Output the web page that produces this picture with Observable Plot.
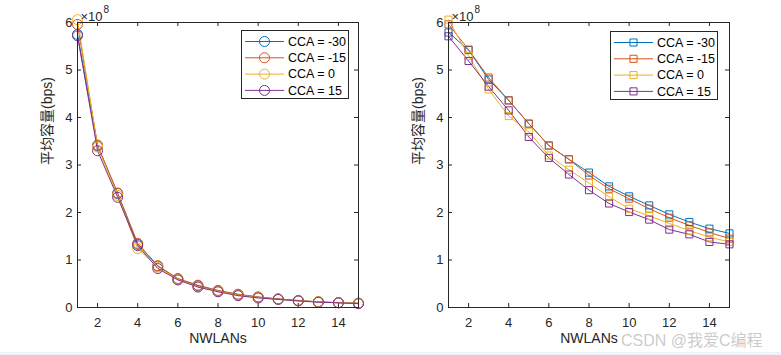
<!DOCTYPE html>
<html>
<head>
<meta charset="utf-8">
<script src="https://cdn.jsdelivr.net/npm/d3@7"></script>
<script src="https://cdn.jsdelivr.net/npm/@observablehq/plot@0.6"></script>
<style>
  html, body { margin: 0; padding: 0; background: #fff; }
  #wrap { position: relative; width: 781px; height: 355px; overflow: hidden; font-family: "Liberation Sans", Arial, "Noto Sans CJK SC", sans-serif; }
  .panel { position: absolute; top: 0; }
  .band { position: absolute; left: 0; top: 352px; width: 781px; height: 3px; background: #eef3f9; }
  .wm { position: absolute; left: 621px; top: 327px; font-size: 16px; color: rgba(150,150,150,0.5); font-family: "Liberation Sans", "Noto Sans CJK SC", sans-serif; white-space: nowrap; }
</style>
</head>
<body>
<div id="wrap"></div>
<script>
// ---- data (capacity in units of 1e8 bps) ----
const nwlans = [1, 2, 3, 4, 5, 6, 7, 8, 9, 10, 11, 12, 13, 14, 15];
const seriesNames = ["CCA = -30", "CCA = -15", "CCA = 0", "CCA = 15"];
const seriesColors = ["#0072BD", "#D95319", "#EDB120", "#7E2F8E"];

const leftCcaM30 = [5.75, 3.40, 2.40, 1.33, 0.87, 0.60, 0.46, 0.35, 0.27, 0.22, 0.18, 0.14, 0.12, 0.10, 0.09];
const leftCcaM15 = [5.96, 3.42, 2.41, 1.35, 0.88, 0.61, 0.47, 0.36, 0.28, 0.22, 0.18, 0.15, 0.12, 0.10, 0.09];
const leftCca0   = [6.06, 3.38, 2.36, 1.24, 0.85, 0.59, 0.44, 0.34, 0.26, 0.21, 0.17, 0.14, 0.12, 0.10, 0.09];
const leftCca15  = [5.72, 3.30, 2.32, 1.30, 0.82, 0.58, 0.43, 0.33, 0.25, 0.20, 0.17, 0.14, 0.11, 0.10, 0.08];

const rightCcaM30 = [5.79, 5.42, 4.80, 4.36, 3.87, 3.41, 3.12, 2.84, 2.55, 2.34, 2.15, 1.96, 1.80, 1.66, 1.56];
const rightCcaM15 = [5.96, 5.43, 4.84, 4.36, 3.87, 3.41, 3.12, 2.78, 2.50, 2.29, 2.08, 1.89, 1.73, 1.58, 1.45];
const rightCca0   = [6.06, 5.30, 4.59, 4.03, 3.70, 3.20, 2.90, 2.62, 2.33, 2.08, 1.93, 1.77, 1.62, 1.48, 1.38];
const rightCca15  = [5.71, 5.19, 4.65, 4.15, 3.59, 3.15, 2.80, 2.47, 2.19, 2.01, 1.85, 1.64, 1.54, 1.38, 1.33];

const xTicks = [2, 4, 6, 8, 10, 12, 14];
const yTicks = [0, 1, 2, 3, 4, 5, 6];
const xLabel = "NWLANs";
const yLabel = "平均容量(bps)";
const exponentBase = "×10";
const exponent = "8";

// ---- helpers ----
const ink = "#262626";
function toRows(arrays) {
  const rows = [];
  arrays.forEach((vals, i) => vals.forEach((v, j) => rows.push({n: nwlans[j], v, s: seriesNames[i]})));
  return rows;
}

function panel({arrays, symbol, r, left, marginLeft, marginRight, legendPos}) {
  const W = 390, H = 355, mt = 22, mb = 48;
  const innerH = H - mt - mb, innerW = W - marginLeft - marginRight;
  const tl = 4;
  const rows = toRows(arrays);
  const marks = [
    Plot.ruleX(xTicks, {x: d => d, stroke: ink, insetTop: innerH - tl}),
    Plot.ruleX(xTicks, {x: d => d, stroke: ink, insetBottom: innerH - tl}),
    Plot.ruleY(yTicks, {y: d => d, stroke: ink, insetRight: innerW - tl}),
    Plot.ruleY(yTicks, {y: d => d, stroke: ink, insetLeft: innerW - tl}),
    Plot.axisX(xTicks, {tickSize: 0, tickPadding: 10, fontSize: 13, fill: ink, label: null}),
    Plot.axisY(yTicks, {tickSize: 0, tickPadding: 5, fontSize: 13, fill: ink, label: null}),
    Plot.line(rows, {x: "n", y: "v", z: "s", stroke: "s", strokeWidth: 1}),
    Plot.dot(rows, {x: "n", y: "v", stroke: "s", symbol: symbol, r: r, fill: "none", strokeWidth: 1}),
    Plot.frame({stroke: ink, strokeWidth: 1}),
    Plot.text([xLabel], {frameAnchor: "bottom", dy: 35, fontSize: 14, fill: ink}),
    Plot.text([yLabel], {frameAnchor: "left", dx: -30, rotate: -90, fontSize: 14, fill: ink}),
    Plot.text([exponentBase], {frameAnchor: "top-left", dx: 3, dy: -11, textAnchor: "start", fontSize: 13, fill: ink}),
    Plot.text([exponent], {frameAnchor: "top-left", dx: 26, dy: -17, textAnchor: "start", fontSize: 10, fill: ink})
  ];
  const chart = Plot.plot({
    width: W, height: H,
    marginTop: mt, marginBottom: mb, marginLeft, marginRight,
    x: {domain: [1, 15], axis: null},
    y: {domain: [0, 6], axis: null},
    color: {domain: seriesNames, range: seriesColors},
    style: {fontFamily: "\"Liberation Sans\", Arial, \"Noto Sans CJK SC\", sans-serif", background: "transparent", overflow: "visible", color: ink},
    marks
  });
  const div = document.createElement("div");
  div.className = "panel";
  div.style.left = left + "px";
  div.appendChild(chart);
  document.getElementById("wrap").appendChild(div);

  // legend
  const lg = d3.select("#wrap").append("svg")
    .attr("width", legendPos.w).attr("height", legendPos.h)
    .style("position", "absolute").style("left", legendPos.x + "px").style("top", legendPos.y + "px")
    .style("overflow", "visible");
  lg.append("rect").attr("x", 0.5).attr("y", 0.5).attr("width", legendPos.w - 1).attr("height", legendPos.h - 1)
    .attr("fill", "#fff").attr("stroke", ink);
  const sym = d3.symbol().type(symbol === "circle" ? d3.symbolCircle : d3.symbolSquare).size(Math.PI * r * r);
  seriesNames.forEach((name, i) => {
    const cy = 11.5 + i * 16.3;
    lg.append("line").attr("x1", 4).attr("x2", 43).attr("y1", cy).attr("y2", cy).attr("stroke", seriesColors[i]);
    lg.append("path").attr("d", sym()).attr("transform", `translate(23.5,${cy})`).attr("fill", "none").attr("stroke", seriesColors[i]);
    lg.append("text").attr("x", 47).attr("y", cy).attr("dy", "0.35em").attr("font-size", 12.5).attr("fill", "#000")
      .attr("font-family", "\"Liberation Sans\", Arial, sans-serif").text(name);
  });
}

panel({arrays: [leftCcaM30, leftCcaM15, leftCca0, leftCca15], symbol: "circle", r: 5, left: 0, marginLeft: 77, marginRight: 32,
  legendPos: {x: 241, y: 30, w: 108, h: 69}});
panel({arrays: [rightCcaM30, rightCcaM15, rightCca0, rightCca15], symbol: "square", r: 4, left: 370, marginLeft: 78, marginRight: 31,
  legendPos: {x: 610, y: 31, w: 108, h: 69}});

const band = document.createElement("div"); band.className = "band"; document.getElementById("wrap").appendChild(band);
const wm = document.createElement("div"); wm.className = "wm"; wm.textContent = "CSDN @我爱C编程"; document.getElementById("wrap").appendChild(wm);
</script>
</body>
</html>
